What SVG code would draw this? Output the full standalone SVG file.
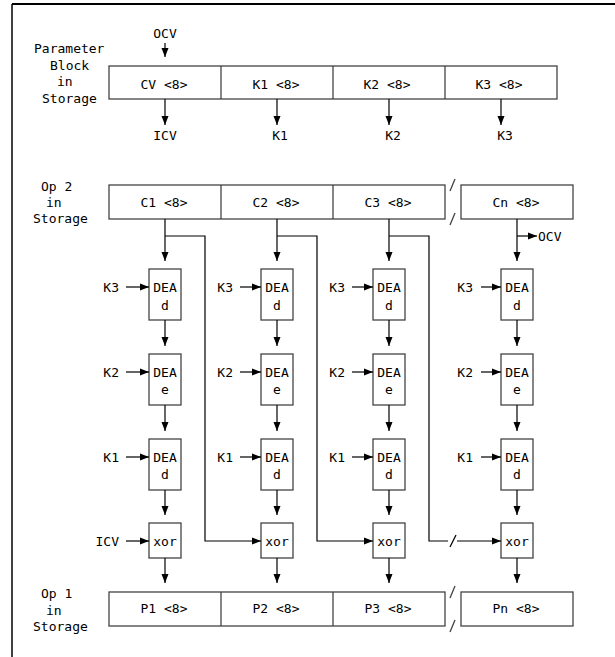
<svg xmlns="http://www.w3.org/2000/svg" width="615" height="657" viewBox="0 0 615 657">
<defs>
<marker id="ah" markerUnits="userSpaceOnUse" markerWidth="10" markerHeight="8" refX="9" refY="4" orient="auto">
<path d="M0,0.5 L9,4 L0,7.5 z" fill="#000"/>
</marker>
</defs>
<style>
text{font-family:"DejaVu Sans Mono","Liberation Mono",monospace;font-size:13px;fill:#000}
.c{text-anchor:middle}
.e{text-anchor:end}
.box{fill:#fff;stroke:#444;stroke-width:1.3}
.ln{fill:none;stroke:#444;stroke-width:1.3}
.ar{fill:none;stroke:#000;stroke-width:1.2;marker-end:url(#ah)}
.wire{fill:none;stroke:#000;stroke-width:1.2}
</style>
<rect width="615" height="657" fill="#fff"/>
<g id="frame">
<line x1="12" y1="4" x2="615" y2="4" stroke="#000" stroke-width="2"/>
<line x1="12" y1="4" x2="12" y2="657" stroke="#000" stroke-width="1.5"/>
</g>

<g id="param-label">
<text x="34" y="53">Parameter</text>
<text x="50" y="69.5">Block</text>
<text x="57" y="86">in</text>
<text x="42" y="102.5">Storage</text>
</g>
<g id="param-block">
<rect class="box" x="109" y="66" width="448" height="33"/>
<line class="ln" x1="221" y1="66" x2="221" y2="99"/>
<line class="ln" x1="333" y1="66" x2="333" y2="99"/>
<line class="ln" x1="445" y1="66" x2="445" y2="99"/>
<text class="c" x="164" y="89">CV <tspan>&lt;8&gt;</tspan></text>
<text class="c" x="276" y="89">K1 &lt;8&gt;</text>
<text class="c" x="387" y="89">K2 &lt;8&gt;</text>
<text class="c" x="499" y="89">K3 &lt;8&gt;</text>
</g>
<g id="param-io">
<text class="c" x="165" y="37.5">OCV</text>
<text class="c" x="165" y="140">ICV</text>
<text class="c" x="280" y="140">K1</text>
<text class="c" x="393" y="140">K2</text>
<text class="c" x="505" y="140">K3</text>
</g>

<g id="op2-label">
<text x="41" y="190.5">Op 2</text>
<text x="46" y="206.5">in</text>
<text x="33" y="223">Storage</text>
</g>
<g id="op2-block">
<rect class="box" x="109" y="185" width="336" height="34"/>
<line class="ln" x1="221" y1="185" x2="221" y2="219"/>
<line class="ln" x1="333" y1="185" x2="333" y2="219"/>
<line class="ln" x1="450" y1="191" x2="455" y2="179"/>
<line class="ln" x1="450" y1="225" x2="455" y2="213"/>
<rect class="box" x="461" y="185" width="112" height="34"/>
<text class="c" x="164" y="206.5">C1 &lt;8&gt;</text>
<text class="c" x="276" y="206.5">C2 &lt;8&gt;</text>
<text class="c" x="388" y="206.5">C3 &lt;8&gt;</text>
<text class="c" x="516" y="206.5">Cn &lt;8&gt;</text>
</g>

<g id="op1-label">
<text x="41" y="598">Op 1</text>
<text x="46" y="614.5">in</text>
<text x="33" y="630.5">Storage</text>
</g>
<g id="op1-block">
<rect class="box" x="109" y="592" width="336" height="34"/>
<line class="ln" x1="221" y1="592" x2="221" y2="626"/>
<line class="ln" x1="333" y1="592" x2="333" y2="626"/>
<line class="ln" x1="450" y1="598" x2="455" y2="586"/>
<line class="ln" x1="450" y1="632" x2="455" y2="620"/>
<rect class="box" x="461" y="592" width="112" height="34"/>
<text class="c" x="164" y="613">P1 &lt;8&gt;</text>
<text class="c" x="276" y="613">P2 &lt;8&gt;</text>
<text class="c" x="388" y="613">P3 &lt;8&gt;</text>
<text class="c" x="516" y="613">Pn &lt;8&gt;</text>
</g>

<!-- column 1 -->
<g id="c1-dea1"><rect class="box" x="149" y="269" width="32" height="51"/><text class="c" x="165" y="292">DEA</text><text class="c" x="165" y="309.5">d</text></g>
<g id="c1-dea2"><rect class="box" x="149" y="354" width="32" height="51"/><text class="c" x="165" y="377">DEA</text><text class="c" x="165" y="394">e</text></g>
<g id="c1-dea3"><rect class="box" x="149" y="439" width="32" height="51"/><text class="c" x="165" y="462">DEA</text><text class="c" x="165" y="479">d</text></g>
<g id="c1-xor"><rect class="box" x="149" y="523" width="32" height="35"/><text class="c" x="165" y="546">xor</text></g>
<!-- column 2 -->
<g id="c2-dea1"><rect class="box" x="261" y="269" width="32" height="51"/><text class="c" x="277" y="292">DEA</text><text class="c" x="277" y="309.5">d</text></g>
<g id="c2-dea2"><rect class="box" x="261" y="354" width="32" height="51"/><text class="c" x="277" y="377">DEA</text><text class="c" x="277" y="394">e</text></g>
<g id="c2-dea3"><rect class="box" x="261" y="439" width="32" height="51"/><text class="c" x="277" y="462">DEA</text><text class="c" x="277" y="479">d</text></g>
<g id="c2-xor"><rect class="box" x="261" y="523" width="32" height="35"/><text class="c" x="277" y="546">xor</text></g>
<!-- column 3 -->
<g id="c3-dea1"><rect class="box" x="373" y="269" width="32" height="51"/><text class="c" x="389" y="292">DEA</text><text class="c" x="389" y="309.5">d</text></g>
<g id="c3-dea2"><rect class="box" x="373" y="354" width="32" height="51"/><text class="c" x="389" y="377">DEA</text><text class="c" x="389" y="394">e</text></g>
<g id="c3-dea3"><rect class="box" x="373" y="439" width="32" height="51"/><text class="c" x="389" y="462">DEA</text><text class="c" x="389" y="479">d</text></g>
<g id="c3-xor"><rect class="box" x="373" y="523" width="32" height="35"/><text class="c" x="389" y="546">xor</text></g>
<!-- column n -->
<g id="cn-dea1"><rect class="box" x="501" y="269" width="32" height="51"/><text class="c" x="517" y="292">DEA</text><text class="c" x="517" y="309.5">d</text></g>
<g id="cn-dea2"><rect class="box" x="501" y="354" width="32" height="51"/><text class="c" x="517" y="377">DEA</text><text class="c" x="517" y="394">e</text></g>
<g id="cn-dea3"><rect class="box" x="501" y="439" width="32" height="51"/><text class="c" x="517" y="462">DEA</text><text class="c" x="517" y="479">d</text></g>
<g id="cn-xor"><rect class="box" x="501" y="523" width="32" height="35"/><text class="c" x="517" y="546">xor</text></g>

<g id="key-labels">
<text class="e" x="119" y="292">K3</text><text class="e" x="119" y="377">K2</text><text class="e" x="119" y="462">K1</text><text class="e" x="119" y="546">ICV</text>
<text class="e" x="233" y="292">K3</text><text class="e" x="233" y="377">K2</text><text class="e" x="233" y="462">K1</text>
<text class="e" x="345" y="292">K3</text><text class="e" x="345" y="377">K2</text><text class="e" x="345" y="462">K1</text>
<text class="e" x="473" y="292">K3</text><text class="e" x="473" y="377">K2</text><text class="e" x="473" y="462">K1</text>
<text x="538" y="241">OCV</text>
</g>

<g id="connectors">
<!-- parameter block -->
<line class="ar" x1="165" y1="43" x2="165" y2="57"/>
<line class="ar" x1="165" y1="99" x2="165" y2="125"/>
<line class="ar" x1="277" y1="99" x2="277" y2="125"/>
<line class="ar" x1="389" y1="99" x2="389" y2="125"/>
<line class="ar" x1="501" y1="99" x2="501" y2="125"/>
<!-- vertical chains -->
<line class="ar" x1="165" y1="219" x2="165" y2="261"/><line class="ar" x1="165" y1="320" x2="165" y2="346"/><line class="ar" x1="165" y1="405" x2="165" y2="431"/><line class="ar" x1="165" y1="490" x2="165" y2="515"/><line class="ar" x1="165" y1="558" x2="165" y2="583"/>
<line class="ar" x1="277" y1="219" x2="277" y2="261"/><line class="ar" x1="277" y1="320" x2="277" y2="346"/><line class="ar" x1="277" y1="405" x2="277" y2="431"/><line class="ar" x1="277" y1="490" x2="277" y2="515"/><line class="ar" x1="277" y1="558" x2="277" y2="583"/>
<line class="ar" x1="389" y1="219" x2="389" y2="261"/><line class="ar" x1="389" y1="320" x2="389" y2="346"/><line class="ar" x1="389" y1="405" x2="389" y2="431"/><line class="ar" x1="389" y1="490" x2="389" y2="515"/><line class="ar" x1="389" y1="558" x2="389" y2="583"/>
<line class="ar" x1="517" y1="219" x2="517" y2="261"/><line class="ar" x1="517" y1="320" x2="517" y2="346"/><line class="ar" x1="517" y1="405" x2="517" y2="431"/><line class="ar" x1="517" y1="490" x2="517" y2="515"/><line class="ar" x1="517" y1="558" x2="517" y2="583"/>
<!-- key arrows -->
<line class="ar" x1="126" y1="287" x2="149" y2="287"/><line class="ar" x1="126" y1="372" x2="149" y2="372"/><line class="ar" x1="126" y1="457" x2="149" y2="457"/><line class="ar" x1="126" y1="541" x2="149" y2="541"/>
<line class="ar" x1="240" y1="287" x2="261" y2="287"/><line class="ar" x1="240" y1="372" x2="261" y2="372"/><line class="ar" x1="240" y1="457" x2="261" y2="457"/>
<line class="ar" x1="352" y1="287" x2="373" y2="287"/><line class="ar" x1="352" y1="372" x2="373" y2="372"/><line class="ar" x1="352" y1="457" x2="373" y2="457"/>
<line class="ar" x1="481" y1="287" x2="501" y2="287"/><line class="ar" x1="481" y1="372" x2="501" y2="372"/><line class="ar" x1="481" y1="457" x2="501" y2="457"/>
<!-- chaining branches -->
<polyline class="ar" points="165,236 205,236 205,541 261,541"/>
<polyline class="ar" points="277,236 317,236 317,541 373,541"/>
<polyline class="wire" points="389,236 429,236 429,541 448,541"/>
<line class="wire" x1="450" y1="547" x2="456" y2="535"/>
<line class="ar" x1="457" y1="541" x2="501" y2="541"/>
<line class="ar" x1="517" y1="236" x2="537" y2="236"/>
</g>
</svg>
